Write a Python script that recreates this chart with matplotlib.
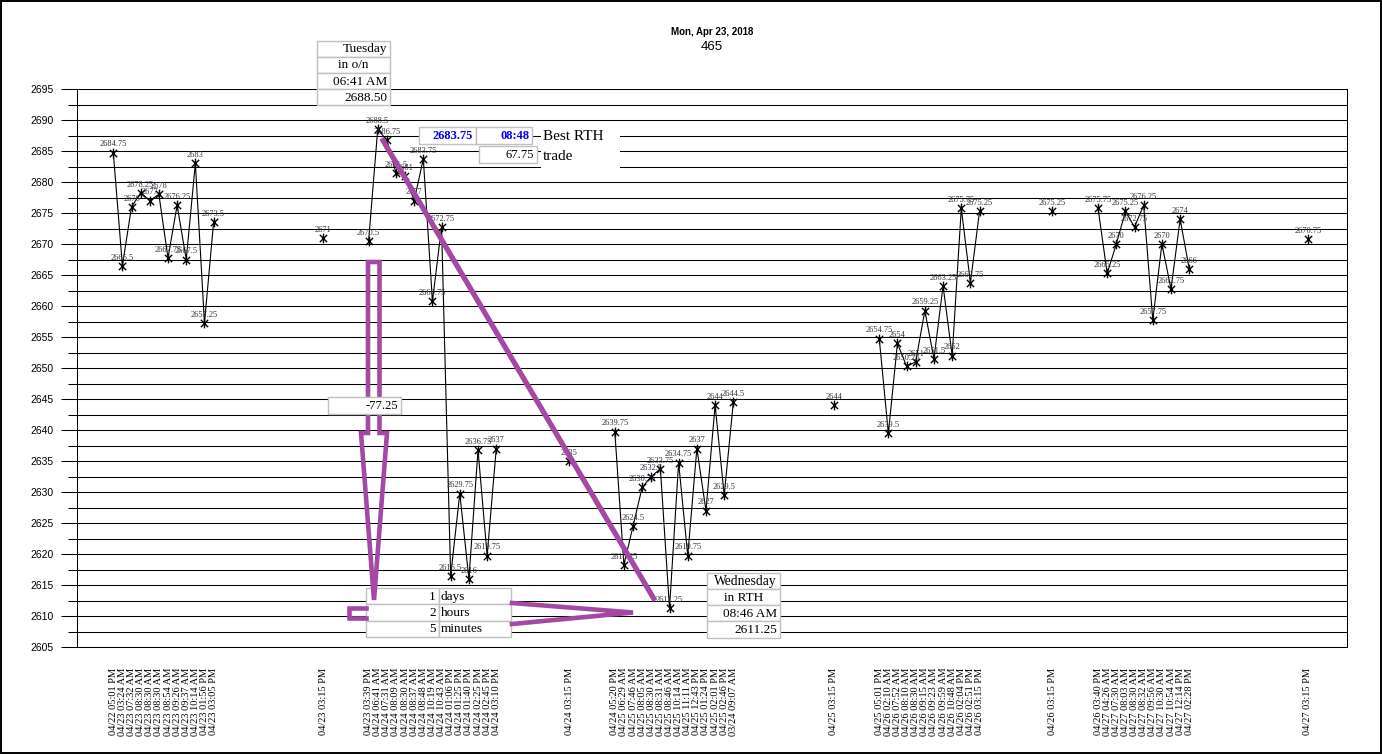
import numpy as np
import matplotlib
matplotlib.use("Agg")
import matplotlib.pyplot as plt
from matplotlib.patches import Rectangle, Polygon
from matplotlib.path import Path
from matplotlib.ticker import MultipleLocator

W, H = 1382, 754
SERIF = ["Liberation Serif", "DejaVu Serif"]
SANS = ["Liberation Sans", "DejaVu Sans"]
PURPLE = "#a349a4"
CELL_EDGE = "#c0c0c0"
LABEL_COLOUR = "#3a2f3f"

# ---- data: sessions of trades, separated by blank categories ----
S1_LABELS = ["04/22 05:01 PM", "04/23 03:24 AM", "04/23 07:32 AM", "04/23 08:30 AM",
             "04/23 08:30 AM", "04/23 08:30 AM", "04/23 08:54 AM", "04/23 09:26 AM",
             "04/23 09:37 AM", "04/23 10:14 AM", "04/23 01:56 PM", "04/23 03:05 PM"]
S1_VALUES = [2684.75, 2666.5, 2676, 2678.25, 2677, 2678, 2667.75, 2676.25,
             2667.5, 2683, 2657.25, 2673.5]

C1_LABELS = ["04/23 03:15 PM"]
C1_VALUES = [2671]

S2_LABELS = ["04/23 03:39 PM", "04/24 06:41 AM", "04/24 07:31 AM", "04/24 08:09 AM",
             "04/24 08:30 AM", "04/24 08:37 AM", "04/24 08:48 AM", "04/24 10:19 AM",
             "04/24 10:43 AM", "04/24 01:06 PM", "04/24 01:25 PM", "04/24 01:40 PM",
             "04/24 02:25 PM", "04/24 02:45 PM", "04/24 03:10 PM"]
S2_VALUES = [2670.5, 2688.5, 2686.75, 2681.5, 2681, 2677, 2683.75, 2660.75,
             2672.75, 2616.5, 2629.75, 2616, 2636.75, 2619.75, 2637]

C2_LABELS = ["04/24 03:15 PM"]
C2_VALUES = [2635]

S3_LABELS = ["04/24 05:20 PM", "04/25 06:29 AM", "04/25 07:46 AM", "04/25 08:05 AM",
             "04/25 08:30 AM", "04/25 08:31 AM", "04/25 08:46 AM", "04/25 10:14 AM",
             "04/25 11:11 AM", "04/25 12:43 PM", "04/25 01:24 PM", "04/25 02:01 PM",
             "04/25 02:46 PM", "03/24 09:07 AM"]
S3_VALUES = [2639.75, 2618.25, 2624.5, 2630.75, 2632.5, 2633.75, 2611.25, 2634.75,
             2619.75, 2637, 2627, 2644, 2629.5, 2644.5]

C3_LABELS = ["04/25 03:15 PM"]
C3_VALUES = [2644]

S4_LABELS = ["04/25 05:01 PM", "04/26 02:10 AM", "04/26 07:52 AM", "04/26 08:10 AM",
             "04/26 08:30 AM", "04/26 09:15 AM", "04/26 09:23 AM", "04/26 09:59 AM",
             "04/26 10:48 AM", "04/26 02:04 PM", "04/26 02:51 PM", "04/26 03:15 PM"]
S4_VALUES = [2654.75, 2639.5, 2654, 2650.25, 2651, 2659.25, 2651.5, 2663.25,
             2652, 2675.75, 2663.75, 2675.25]

C4_LABELS = ["04/26 03:15 PM"]
C4_VALUES = [2675.25]

S5_LABELS = ["04/26 03:40 PM", "04/27 04:26 AM", "04/27 07:30 AM", "04/27 08:03 AM",
             "04/27 08:30 AM", "04/27 08:32 AM", "04/27 09:56 AM", "04/27 10:30 AM",
             "04/27 10:54 AM", "04/27 12:14 PM", "04/27 02:28 PM"]
S5_VALUES = [2675.75, 2665.25, 2670, 2675.25, 2672.75, 2676.25, 2657.75, 2670,
             2662.75, 2674, 2666]

C5_LABELS = ["04/27 03:15 PM"]
C5_VALUES = [2670.75]

# blank categories in front of each group
BLANKS = [0, 11, 4, 7, 4, 10, 4, 7, 4, 12]
GROUPS = [(S1_LABELS, S1_VALUES), (C1_LABELS, C1_VALUES),
          (S2_LABELS, S2_VALUES), (C2_LABELS, C2_VALUES),
          (S3_LABELS, S3_VALUES), (C3_LABELS, C3_VALUES),
          (S4_LABELS, S4_VALUES), (C4_LABELS, C4_VALUES),
          (S5_LABELS, S5_VALUES), (C5_LABELS, C5_VALUES)]

TITLE_DATE = "Mon, Apr 23, 2018"
TITLE_NUM = "465"

# asterisk marker: vertical stroke plus an X
STAR = Path([(0, -1), (0, 1), (-0.75, -0.75), (0.75, 0.75), (-0.75, 0.75), (0.75, -0.75)],
            [Path.MOVETO, Path.LINETO, Path.MOVETO, Path.LINETO, Path.MOVETO, Path.LINETO])

fig = plt.figure(figsize=(W / 100, H / 100), dpi=100)
ax = fig.add_axes([77 / W, (H - 647) / H, (1347 - 77) / W, (647 - 89) / H])

tick_pos, tick_lab = [], []
slot = 0
for blank, (labels, values) in zip(BLANKS, GROUPS):
    slot += blank
    xs = np.arange(slot, slot + len(labels))
    slot += len(labels)
    ax.plot(xs, values, color="black", lw=0.8, marker=STAR, ms=7,
            mec="black", mew=1.0, zorder=3)
    for x, v in zip(xs, values):
        ax.annotate(f"{v:g}", (x, v), xytext=(0, 3), textcoords="offset points",
                    ha="center", va="bottom", fontsize=6, family=SERIF,
                    color=LABEL_COLOUR, zorder=4)
    tick_pos.extend(xs)
    tick_lab.extend(labels)

ax.set_xlim(-3.98, 135.3)
ax.set_ylim(2605, 2695)
ax.set_xticks(tick_pos)
ax.set_xticklabels(tick_lab, rotation=90, fontsize=7.5, family=SERIF)
ax.tick_params(axis="x", length=0, pad=15)

ax.yaxis.set_major_locator(MultipleLocator(5))
ax.yaxis.set_minor_locator(MultipleLocator(2.5))
ax.tick_params(axis="y", which="major", length=11.5, width=0.75, pad=5.5,
               labelsize=7.5)
ax.tick_params(axis="y", which="minor", length=6.5, width=0.75)
for lab in ax.get_yticklabels():
    lab.set_family(SANS)
ax.grid(axis="y", which="both", color="black", lw=0.75)
ax.set_axisbelow(True)
ax.spines["top"].set_visible(False)
for s in ("left", "right", "bottom"):
    ax.spines[s].set_linewidth(0.75)

# ---- overlay in pixel coordinates for the annotations ----
ov = fig.add_axes([0, 0, 1, 1], zorder=10)
ov.set_xlim(0, W)
ov.set_ylim(H, 0)
ov.axis("off")
ov.patch.set_alpha(0)


def cell(x0, x1, y0, y1, text="", ha="right", z=5, **kw):
    ov.add_patch(Rectangle((x0, y0), x1 - x0, y1 - y0, fc="white",
                           ec=CELL_EDGE, lw=1, zorder=z))
    if not text:
        return
    tx = {"right": x1 - 3, "left": x0 + 2, "center": (x0 + x1) / 2}[ha]
    kw.setdefault("fontsize", 9.5)
    kw.setdefault("family", SERIF)
    ov.text(tx, (y0 + y1) / 2 + 0.5, text, ha=ha, va="center", zorder=z + 1, **kw)


# Tuesday box
rows = [40.7, 56.9, 73.1, 89.2, 105.3]
for (t, ha), a, b in zip([("Tuesday", "right"), ("in o/n", "center"),
                          ("06:41 AM", "right"), ("2688.50", "right")], rows[:-1], rows[1:]):
    cell(317.3, 390, a, b, t, ha)

# Best RTH trade box
cell(419.3, 476, 127.3, 144.3, "2683.75", fontsize=9, weight="bold", color="blue")
cell(476, 532.3, 127.3, 144.3, "08:48", fontsize=9, weight="bold", color="blue")
cell(479.3, 536.7, 146, 163.3, "67.75", fontsize=9)
ov.add_patch(Rectangle((541, 125), 79, 44, fc="white", ec="none", zorder=4))
ov.text(543, 136.5, "Best RTH", ha="left", va="center", fontsize=11, family=SERIF, zorder=6)
ov.text(543, 156, "trade", ha="left", va="center", fontsize=11, family=SERIF, zorder=6)

# elapsed-time box
rows = [588.3, 604.4, 620.5, 636.7]
for (n, u), a, b in zip([("1", "days"), ("2", "hours"), ("5", "minutes")], rows[:-1], rows[1:]):
    cell(366.5, 439, a, b, n, "right", z=3)
    cell(439, 511.5, a, b, u, "left", z=3)

# Wednesday box
rows = [572.7, 589, 605.2, 621.4, 637.5]
for (t, ha), a, b in zip([("Wednesday", "right"), ("in RTH", "center"),
                          ("08:46 AM", "right"), ("2611.25", "right")], rows[:-1], rows[1:]):
    cell(707.3, 780, a, b, t, ha, fontsize=9.5 if t != "Wednesday" else 9.8)

# purple markup
ov.plot([381.7, 655], [138.3, 600.7], color=PURPLE, lw=3.8, solid_capstyle="butt", zorder=7)
ov.add_patch(Polygon([(368, 262), (379.5, 262), (379.5, 433), (387, 433), (374, 600),
                      (361, 433), (368, 433)], closed=True, fill=False, ec=PURPLE,
                     lw=3.3, joinstyle="miter", zorder=7))
ov.plot([366.5, 349, 349, 366.5], [608, 608, 618, 618], color=PURPLE, lw=3.3,
        solid_joinstyle="miter", zorder=7)
ov.plot([512, 633, 512], [603, 612.5, 624], color=PURPLE, lw=3.3,
        solid_joinstyle="miter", zorder=7)

# difference box drawn over the arrow shaft
cell(328.3, 401, 397.3, 414, "-77.25", z=8, fontsize=9)

# titles
ov.text(712, 32, TITLE_DATE, ha="center", va="center", fontsize=7, weight="bold",
        family=SANS)
ov.text(712, 47, TITLE_NUM, ha="center", va="center", fontsize=9.5, family=SANS)

# outer frame
ov.add_patch(Rectangle((0.8, 0.8), W - 1.6, H - 1.6, fill=False, ec="black", lw=1.4,
                       zorder=20))

fig.savefig("out.png", dpi=100)
